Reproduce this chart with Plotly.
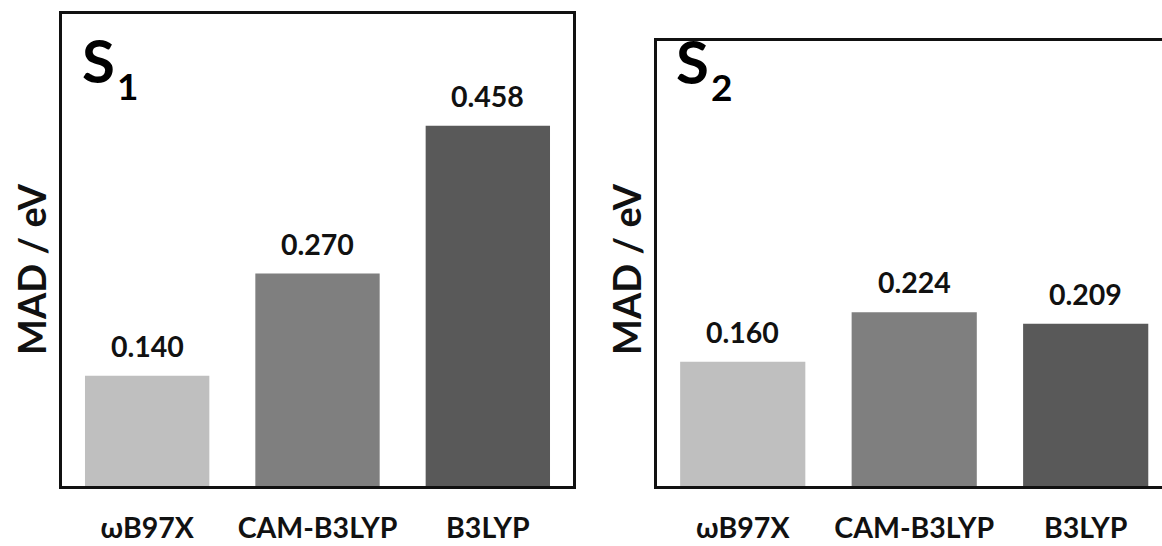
import plotly.graph_objects as go

# MAD values (eV) per functional for the two excited states
methods = ["ωB97X", "CAM-B3LYP", "B3LYP"]
mad_s1 = [0.140, 0.270, 0.458]
mad_s2 = [0.160, 0.224, 0.209]
bar_colors = ["#bfbfbf", "#7f7f7f", "#595959"]

W, H = 1162, 546
FONT = "Lato"


def px(x):
    return x / W


def py(y):
    return 1 - y / H


fig = go.Figure()
fig.add_trace(go.Bar(x=methods, y=mad_s1, marker=dict(color=bar_colors, line_width=0),
                     xaxis="x", yaxis="y", showlegend=False, hoverinfo="skip"))
fig.add_trace(go.Bar(x=methods, y=mad_s2, marker=dict(color=bar_colors, line_width=0),
                     xaxis="x2", yaxis="y2", showlegend=False, hoverinfo="skip"))

annotations = []
# value labels above each bar
for vals, xr, yr in [(mad_s1, "x", "y"), (mad_s2, "x2", "y2")]:
    for m, v in zip(methods, vals):
        annotations.append(dict(x=m, y=v, xref=xr, yref=yr, text=f"{v:.3f}",
                                showarrow=False, yanchor="bottom", yshift=11,
                                font=dict(family=FONT, size=28.5, color="#111111", weight="bold")))

# y-axis titles
for xc in (31, 626):
    annotations.append(dict(x=px(xc), y=py(269), xref="paper", yref="paper",
                            text="MAD / eV", textangle=-90, showarrow=False,
                            xanchor="center", yanchor="middle",
                            font=dict(family=FONT, size=38, color="#111111", weight="bold")))

# panel labels S1 / S2
for (sx, sy, sub) in [(98, 60, "1"), (692, 61, "2")]:
    annotations.append(dict(x=px(sx), y=py(sy), xref="paper", yref="paper", text="S",
                            showarrow=False, xanchor="center", yanchor="middle",
                            font=dict(family=FONT, size=60, color="#000000", weight="bold")))
    annotations.append(dict(x=px(sx + 29), y=py(sy + 25), xref="paper", yref="paper", text=sub,
                            showarrow=False, xanchor="center", yanchor="middle",
                            font=dict(family=FONT, size=37, color="#000000", weight="bold")))

axis_common = dict(showgrid=False, zeroline=False, linecolor="#111111", linewidth=2.5,
                   showline=True, automargin=False)
tick_font = dict(family=FONT, size=28.5, color="#111111", weight="bold")

fig.update_layout(
    width=W, height=H,
    margin=dict(l=0, r=0, t=0, b=0),
    paper_bgcolor="white", plot_bgcolor="white",
    bargap=0.27,
    xaxis=dict(domain=[px(62), px(573)], range=[-0.5, 2.5], mirror=True,
               tickfont=tick_font, ticks="", ticklabelstandoff=15, **axis_common),
    yaxis=dict(domain=[py(486), py(14)], range=[0, 0.6], mirror=True,
               showticklabels=False, ticks="", **axis_common),
    xaxis2=dict(domain=[px(657), 1.0], range=[-0.5, 2.445], mirror=True,
                tickfont=tick_font, ticks="", ticklabelstandoff=15, **axis_common),
    yaxis2=dict(domain=[py(486), py(41)], range=[0, 0.5735], mirror=False,
                showticklabels=False, ticks="", anchor="x2", **axis_common),
    annotations=annotations,
)
fig.update_layout(xaxis2_anchor="y2")

fig.write_html("out.html")
